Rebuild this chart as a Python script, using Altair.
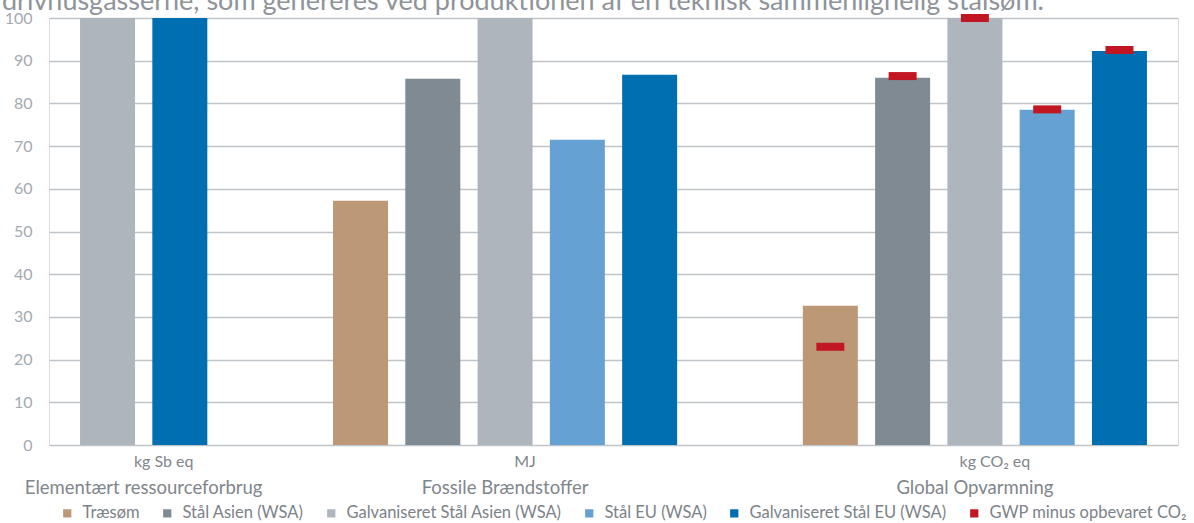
import altair as alt
import pandas as pd

# ---- data ----
groups = ["Elementært ressourceforbrug", "Fossile Brændstoffer", "Global Opvarmning"]
units = ["kg Sb eq", "MJ", "kg CO₂  eq"]
series = [
    "Træsøm",
    "Stål Asien (WSA)",
    "Galvaniseret Stål Asien (WSA)",
    "Stål EU (WSA)",
    "Galvaniseret Stål EU (WSA)",
]
traesom = [None, 57.2, 32.6]
staal_asien = [None, 85.8, 86.0]
galv_asien = [100.0, 100.0, 100.0]
staal_eu = [None, 71.5, 78.5]
galv_eu = [100.0, 86.7, 92.3]
gwp_label = "GWP minus opbevaret CO₂"
gwp_minus = [23.0, 86.4, 100.0, 78.6, 92.5]  # Global Opvarmning only

colors = ["#BD9877", "#808A93", "#AFB5BD", "#66A1D3", "#006FB2", "#C21723"]
title_text = "drivhusgasserne, som genereres ved produktionen af en teknisk sammenlignelig stålsøm."

# ---- build tables (slot index in half-bar steps; gaps between groups) ----
values = [traesom, staal_asien, galv_asien, staal_eu, galv_eu]
bar_rows, grp_rows, gwp_rows = [], [], []
start = 0
for gi, g in enumerate(groups):
    present = [(s, v[gi]) for s, v in zip(series, values) if v[gi] is not None]
    slots = []
    for i, (s, val) in enumerate(present):
        slot = start + 2 * i
        slots.append(slot)
        bar_rows.append({"group": g, "series": s, "value": val, "slot": slot})
    grp_rows.append({"group": g, "unit": units[gi], "slot": (slots[0] + slots[-1]) / 2})
    if gi == 2:
        for s, val in zip(series, gwp_minus):
            sl = [r["slot"] for r in bar_rows if r["group"] == g and r["series"] == s][0]
            gwp_rows.append({"series": gwp_label, "value": val, "slot": sl})
    start = slots[-1] + 5

bars_df = pd.DataFrame(bar_rows)
grp_df = pd.DataFrame(grp_rows)
gwp_df = pd.DataFrame(gwp_rows)

last_slot = bars_df["slot"].max()
xscale = alt.Scale(domain=[-1.62, last_slot + 1.62], nice=False, zero=False, padding=0)
yscale = alt.Scale(domain=[0, 100], nice=False, padding=0)
color_scale = alt.Scale(domain=series + [gwp_label], range=colors)

FONT = "Lato"

legend = alt.Legend(
    title=None,
    orient="none",
    legendX=10,
    legendY=487,
    direction="horizontal",
    columns=6,
    symbolType="square",
    symbolSize=68,
    symbolStrokeWidth=0,
    labelFont=FONT,
    labelFontSize=16.5,
    labelColor="#7B8288",
    labelOffset=7,
    columnPadding=19,
    padding=0,
    labelLimit=400,
)

bars = alt.Chart(bars_df).mark_bar(size=55).encode(
    x=alt.X("slot:Q", scale=xscale, axis=None),
    y=alt.Y(
        "value:Q",
        scale=yscale,
        axis=alt.Axis(
            title=None,
            values=list(range(0, 101, 10)),
            domain=False,
            ticks=False,
            grid=True,
            gridColor="#BFC4C9",
            gridWidth=1.6,
            labelFont=FONT,
            labelFontSize=16,
            labelColor="#A5AAB0",
            labelPadding=17,
        ),
    ),
    color=alt.Color("series:N", scale=color_scale, legend=legend),
)

markers = alt.Chart(gwp_df).mark_tick(orient="horizontal", size=28, thickness=8, opacity=1).encode(
    x=alt.X("slot:Q", scale=xscale),
    y=alt.Y("value:Q", scale=yscale),
    color=alt.Color("series:N", scale=color_scale, legend=legend),
)

unit_text = alt.Chart(grp_df).mark_text(
    font=FONT, fontSize=16, color="#7F868C", baseline="middle", align="center", dx=20
).encode(
    x=alt.X("slot:Q", scale=xscale),
    y=alt.value(444),
    text="unit:N",
)

group_text = alt.Chart(grp_df).mark_text(
    font=FONT, fontSize=18.5, color="#7F868C", baseline="middle", align="center"
).encode(
    x=alt.X("slot:Q", scale=xscale),
    y=alt.value(470),
    text="group:N",
)

title_df = pd.DataFrame({"t": [title_text]})
title_mark = alt.Chart(title_df).mark_text(
    font=FONT, fontSize=27, color="#8E949A", baseline="alphabetic", align="left"
).encode(
    x=alt.value(-47),
    y=alt.value(-8),
    text="t:N",
)

chart = (
    alt.layer(bars, markers, unit_text, group_text, title_mark)
    .properties(
        width=1129,
        height=427,
        autosize=alt.AutoSizeParams(type="none"),
        padding={"left": 49, "top": 18, "right": 16, "bottom": 78},
    )
    .configure_view(stroke=None)
    .configure(background="white")
)

chart.save("out.html", embed_options={"renderer": "svg", "actions": False})
